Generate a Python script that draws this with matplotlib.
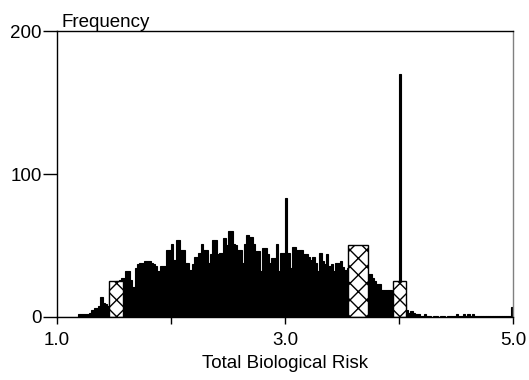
import matplotlib.pyplot as plt
import numpy as np

plt.rcParams['font.family'] = ['Liberation Sans', 'DejaVu Sans']

# histogram of total biological risk, bins of 0.02 from 1.0 to 5.0
bin_width = 0.02
counts = [
    0, 0, 0, 0, 0, 0, 0, 0, 0, 2,
    2, 2, 2, 2, 3, 5, 6, 6, 8, 14,
    10, 9, 8, 20, 22, 24, 25, 26, 27, 27,
    32, 32, 26, 21, 34, 37, 38, 38, 39, 39,
    39, 38, 37, 36, 32, 36, 36, 36, 47, 47,
    51, 40, 54, 54, 47, 47, 38, 38, 33, 37,
    42, 42, 45, 51, 47, 47, 38, 44, 54, 54,
    44, 45, 45, 55, 50, 60, 60, 51, 50, 47,
    47, 38, 51, 57, 56, 56, 51, 46, 46, 32,
    48, 48, 44, 38, 41, 41, 51, 32, 45, 45,
    83, 45, 34, 49, 49, 47, 47, 47, 44, 44,
    42, 40, 42, 38, 32, 45, 39, 37, 44, 36,
    37, 32, 38, 38, 39, 35, 33, 34, 33, 33,
    32, 32, 31, 31, 30, 30, 30, 30, 27, 25,
    23, 23, 19, 19, 19, 19, 19, 18, 18, 17,
    170, 15, 10, 5, 3, 4, 3, 2, 2, 1,
    1, 2, 1, 1, 0, 1, 1, 0, 1, 1,
    0, 1, 1, 1, 1, 2, 1, 1, 2, 1,
    2, 1, 2, 1, 1, 1, 1, 1, 1, 1,
    1, 1, 1, 1, 1, 1, 1, 1, 1, 7,
]
edges = 1.0 + bin_width * np.arange(len(counts))

# the three cross-hatched marker bars
hatch_left = [1.46, 3.55, 3.95]
hatch_width = [0.12, 0.175, 0.11]
hatch_height = [25, 50, 25]

fig = plt.figure(figsize=(5.29, 3.80), dpi=100)
ax = fig.add_axes([0.1078, 0.1658, 0.862, 0.7526])

ax.bar(edges, counts, width=bin_width, align='edge', color='black',
       edgecolor='black', linewidth=0.8)
ax.bar(hatch_left, hatch_height, width=hatch_width, align='edge',
       facecolor='white', edgecolor='black', hatch='xx', linewidth=1)

ax.set_xlim(1.0, 5.0)
ax.set_ylim(0, 200)
ax.set_xticks([1, 2, 3, 4, 5])
ax.set_xticklabels(['1.0', '', '3.0', '', '5.0'])
ax.set_yticks([0, 100, 200])
ax.tick_params(direction='out', width=1, labelsize=13.5, colors='black')
ax.tick_params(axis='x', length=5, pad=6)
ax.tick_params(axis='y', length=10, pad=1)

for s in ['left', 'bottom', 'top']:
    ax.spines[s].set_color('black')
    ax.spines[s].set_linewidth(1)
ax.spines['right'].set_color('#808080')
ax.spines['right'].set_linewidth(1)

ax.set_xlabel('Total Biological Risk', fontsize=13.5, labelpad=4)
ax.text(0.01, 1.0, 'Frequency', transform=ax.transAxes, fontsize=13.5,
        ha='left', va='bottom')

fig.savefig('out.png', dpi=100)
